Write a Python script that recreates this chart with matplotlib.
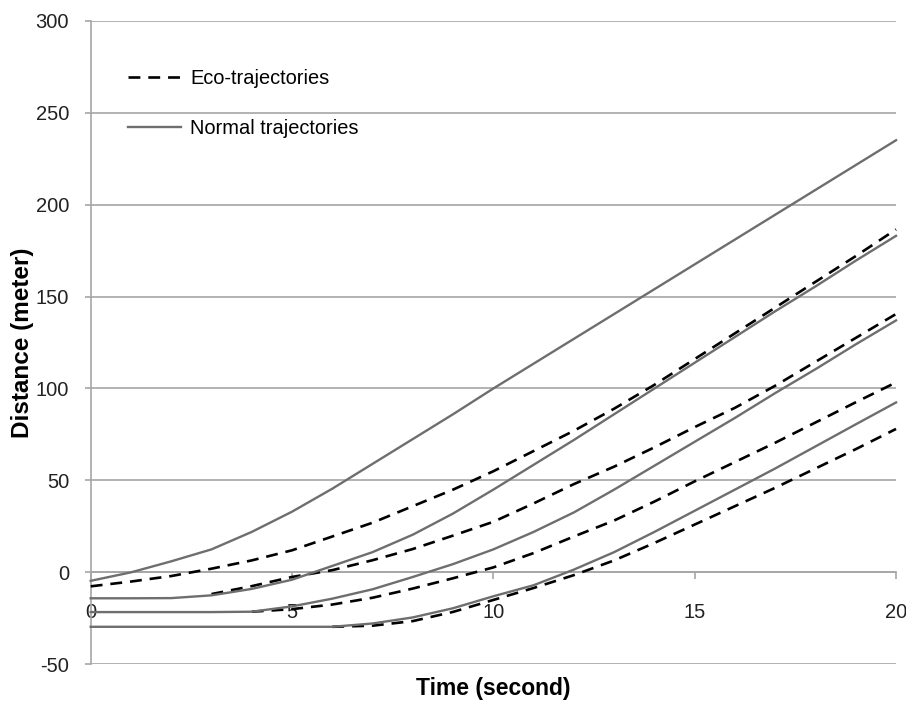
import matplotlib
matplotlib.use("Agg")
import matplotlib.pyplot as plt
from matplotlib.lines import Line2D

nan = float("nan")

# time axis (seconds)
t = list(range(0, 21))

# normal trajectories (solid grey)
normal_1 = [-4.6, 0, 6, 12.5, 22, 33, 45.5, 59, 72.5, 86, 100,
            113.5, 127, 140.5, 154, 167.5, 181, 194.5, 208, 221.5, 235]
normal_2 = [-14.1, -14.1, -14, -12.5, -9, -4, 3.5, 11, 20.5, 32, 45,
            58.5, 72, 86, 100, 114, 128, 142, 155.5, 169.5, 183]
normal_3 = [-21.6, -21.6, -21.6, -21.6, -21.4, -18.5, -14.3, -9.2, -2.5, 4.5, 12.5,
            22, 32.6, 45, 58, 71, 84, 97.5, 110.5, 124, 137]
normal_4 = [-29.6, -29.6, -29.6, -29.6, -29.6, -29.6, -29.6, -27.8, -24.5, -19.5, -13,
            -7, 1.5, 11, 22, 33.5, 45, 56.5, 68.5, 80.5, 92.4]

# eco-trajectories (dashed black); hidden under the normal ones while waiting
eco_1 = [-7.6, -5, -2, 2, 6.5, 12, 19.5, 27, 36, 45, 55,
         66, 77, 89, 102, 116, 130, 144, 158, 172, 186.5]
eco_2 = [nan, nan, nan, -11.8, -7.5, -2.5, 1.2, 6.6, 12.7, 20, 27.5,
         37.5, 48, 57.5, 68, 79, 89.5, 101.5, 114.5, 127.5, 140.5]
eco_3 = [nan, nan, nan, nan, -21.4, -20, -17.5, -13.8, -8.8, -3.2, 2.7,
         10.5, 19.5, 28.2, 38.5, 49.5, 60, 70.5, 81.5, 92.5, 103.3]
eco_4 = [nan, nan, nan, nan, nan, nan, -29.6, -29, -26.5, -21.5, -15,
         -8.5, -1.5, 6.5, 16, 26, 36, 46, 56.5, 67, 78]

normals = [normal_1, normal_2, normal_3, normal_4]
ecos = [eco_1, eco_2, eco_3, eco_4]

y_ticks = [-50, 0, 50, 100, 150, 200, 250, 300]
x_ticks = [0, 5, 10, 15, 20]

plt.rcParams["axes.unicode_minus"] = False

grey = "#6e6e6e"
grid_grey = "#a6a6a6"
tick_font = ["Liberation Sans", "DejaVu Sans"]
text_font = ["Liberation Sans", "DejaVu Sans"]

fig = plt.figure(figsize=(9.06, 7.02), dpi=100)
ax = fig.add_axes([0.1001, 0.0537, 0.8889, 0.9168])

for y in ecos:
    ax.plot(t, y, color="black", lw=1.9, dashes=(4.5, 3), zorder=3, clip_on=False)
for y in normals:
    ax.plot(t, y, color=grey, lw=1.7, zorder=4, clip_on=False)

ax.set_xlim(0, 20)
ax.set_ylim(-50, 300)
ax.set_yticks(y_ticks)
ax.set_xticks(x_ticks)
ax.yaxis.grid(True, color=grid_grey, lw=1.2)
ax.set_axisbelow(True)

for s in ["top", "right"]:
    ax.spines[s].set_visible(False)
ax.spines["bottom"].set_position(("data", 0))
ax.spines["bottom"].set_color(grid_grey)
ax.spines["bottom"].set_linewidth(1.2)
ax.spines["left"].set_color(grid_grey)
ax.spines["left"].set_linewidth(1.2)

ax.tick_params(axis="y", direction="out", length=4.5, width=1.2, color=grid_grey,
               pad=11, labelsize=14.5, labelcolor="#222222")
ax.tick_params(axis="x", direction="out", length=5, width=1.2, color=grid_grey,
               pad=17, labelsize=14.5, labelcolor="#222222")
for lab in ax.get_xticklabels() + ax.get_yticklabels():
    lab.set_family(tick_font)
    lab.set_clip_on(False)

ax.set_xlabel("Time (second)", fontsize=16.5, fontweight="bold",
              family=text_font, va="center")
ax.xaxis.set_label_coords(0.5, -0.037)
ax.set_ylabel("Distance (meter)", fontsize=17.5, fontweight="bold",
              family=text_font, va="center")
ax.yaxis.set_label_coords(-0.085, 0.5)

handles = [Line2D([], [], color="black", lw=1.9, dashes=(4.5, 3)),
           Line2D([], [], color=grey, lw=1.7)]
ax.legend(handles, ["Eco-trajectories", "Normal trajectories"],
          loc="upper left", bbox_to_anchor=(0.0463, 0.9257), frameon=False,
          borderpad=0, borderaxespad=0, handlelength=2.65, handletextpad=0.45,
          labelspacing=1.55, prop={"family": text_font, "size": 14.4})

fig.savefig("out.png", dpi=100)
